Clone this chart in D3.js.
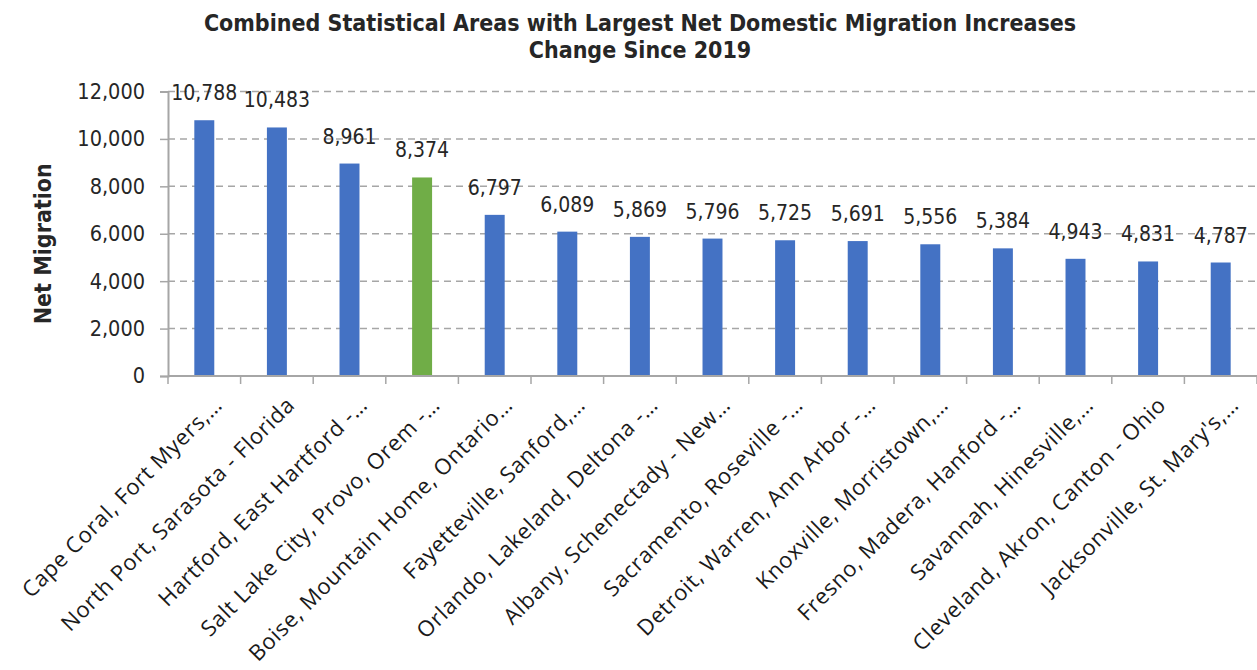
<!DOCTYPE html>
<html>
<head>
<meta charset="utf-8">
<script src="https://cdn.jsdelivr.net/npm/d3@7"></script>
<style>
  html, body { margin: 0; padding: 0; background: #fff; }
  svg { display: block; }
</style>
</head>
<body>
<svg id="chart" width="1257" height="670"></svg>
<script>
// data
const categories = [
  'Cape Coral, Fort Myers,\u2026',
  'North Port, Sarasota - Florida',
  'Hartford, East Hartford -\u2026',
  'Salt Lake City, Provo, Orem -\u2026',
  'Boise, Mountain Home, Ontario\u2026',
  'Fayetteville, Sanford,\u2026',
  'Orlando, Lakeland, Deltona -\u2026',
  'Albany, Schenectady - New\u2026',
  'Sacramento, Roseville -\u2026',
  'Detroit, Warren, Ann Arbor -\u2026',
  'Knoxville, Morristown,\u2026',
  'Fresno, Madera, Hanford -\u2026',
  'Savannah, Hinesville,\u2026',
  'Cleveland, Akron, Canton - Ohio',
  'Jacksonville, St. Mary\'s,\u2026',
];
const netMigration = [10788, 10483, 8961, 8374, 6797, 6089, 5869, 5796, 5725, 5691, 5556, 5384, 4943, 4831, 4787];
const highlighted = ['Salt Lake City, Provo, Orem -\u2026'];
const yTicks = [0, 2000, 4000, 6000, 8000, 10000, 12000];
const titleLines = ['Combined Statistical Areas with Largest Net Domestic Migration Increases', 'Change Since 2019'];
const yTitle = 'Net Migration';

const margin = { top: 91.5, right: 0, bottom: 294, left: 168 };
const width = 1257;
const height = 670;
const numFont = '"DejaVu Sans Condensed", "DejaVu Sans", sans-serif';
const labelFont = '"Open Sans", "Noto Sans", sans-serif';
const blue = '#4472C4';
const green = '#70AD47';
const axisGrey = '#a6a6a6';

const svg = d3.select('#chart');

const x = d3.scaleBand()
  .domain(categories)
  .range([margin.left, width - margin.right])
  .paddingInner(0.725)
  .paddingOuter(0.3625);

const y = d3.scaleLinear()
  .domain([0, 12000])
  .range([height - margin.bottom, margin.top]);

// title
svg.append('g')
  .selectAll('text')
  .data(titleLines)
  .enter()
  .append('text')
  .attr('x', 640)
  .attr('y', (d, i) => 31 + i * 27)
  .attr('text-anchor', 'middle')
  .attr('font-family', numFont)
  .attr('font-weight', 700)
  .attr('font-size', 23)
  .attr('fill', '#262626')
  .text((d) => d);

// gridlines
svg.append('g')
  .selectAll('line')
  .data(yTicks.filter((d) => d > 0))
  .enter()
  .append('line')
  .attr('x1', margin.left)
  .attr('x2', width - margin.right)
  .attr('y1', (d) => y(d))
  .attr('y2', (d) => y(d))
  .attr('stroke', axisGrey)
  .attr('stroke-width', 1.5)
  .attr('stroke-dasharray', '7 5');

// y axis
const yAxis = d3.axisLeft(y)
  .tickValues(yTicks)
  .tickFormat(d3.format(','))
  .tickSize(8)
  .tickPadding(15);

const gy = svg.append('g')
  .attr('transform', `translate(${margin.left}, 0)`)
  .call(yAxis);
gy.select('.domain').attr('stroke', axisGrey).attr('stroke-width', 2);
gy.selectAll('.tick line').attr('stroke', axisGrey).attr('stroke-width', 1.5);
gy.selectAll('.tick text')
  .attr('font-family', numFont)
  .attr('font-size', 21.5)
  .attr('fill', '#262626');

// y title
svg.append('text')
  .attr('transform', `translate(51, ${(y(0) + y(12000)) / 2 + 10}) rotate(-90)`)
  .attr('text-anchor', 'middle')
  .attr('font-family', numFont)
  .attr('font-weight', 700)
  .attr('font-size', 23)
  .attr('fill', '#262626')
  .text(yTitle);

// bars
svg.append('g')
  .selectAll('rect')
  .data(categories)
  .enter()
  .append('rect')
  .attr('x', (d) => x(d))
  .attr('width', x.bandwidth())
  .attr('y', (d, i) => y(netMigration[i]))
  .attr('height', (d, i) => y(0) - y(netMigration[i]))
  .attr('fill', (d) => (highlighted.includes(d) ? green : blue));

// x axis line and ticks at band boundaries
const boundaries = d3.range(categories.length + 1).map((i) => margin.left + i * x.step());
const gx = svg.append('g');
gx.append('line')
  .attr('x1', margin.left)
  .attr('x2', width - margin.right)
  .attr('y1', y(0))
  .attr('y2', y(0))
  .attr('stroke', axisGrey)
  .attr('stroke-width', 2);
gx.selectAll('.xtick')
  .data(boundaries)
  .enter()
  .append('line')
  .attr('class', 'xtick')
  .attr('x1', (d) => d)
  .attr('x2', (d) => d)
  .attr('y1', y(0))
  .attr('y2', y(0) + 8)
  .attr('stroke', axisGrey)
  .attr('stroke-width', 1.5);

// category labels, rotated
gx.selectAll('.xlabel')
  .data(categories)
  .enter()
  .append('text')
  .attr('class', 'xlabel')
  .attr('transform', (d) => `translate(${x(d) + x.bandwidth() / 2 + 13}, ${y(0) + 24}) rotate(-45)`)
  .attr('text-anchor', 'end')
  .attr('dominant-baseline', 'central')
  .attr('font-family', labelFont)
  .attr('font-size', 22)
  .attr('letter-spacing', 0.7)
  .attr('fill', '#1a1a1a')
  .text((d) => d);

// value labels
svg.append('g')
  .selectAll('text')
  .data(categories)
  .enter()
  .append('text')
  .attr('x', (d) => x(d) + x.bandwidth() / 2)
  .attr('y', (d, i) => y(netMigration[i]) - 20)
  .attr('text-anchor', 'middle')
  .attr('font-family', numFont)
  .attr('font-size', 21)
  .attr('fill', '#262626')
  .text((d, i) => d3.format(',')(netMigration[i]));
</script>
</body>
</html>
